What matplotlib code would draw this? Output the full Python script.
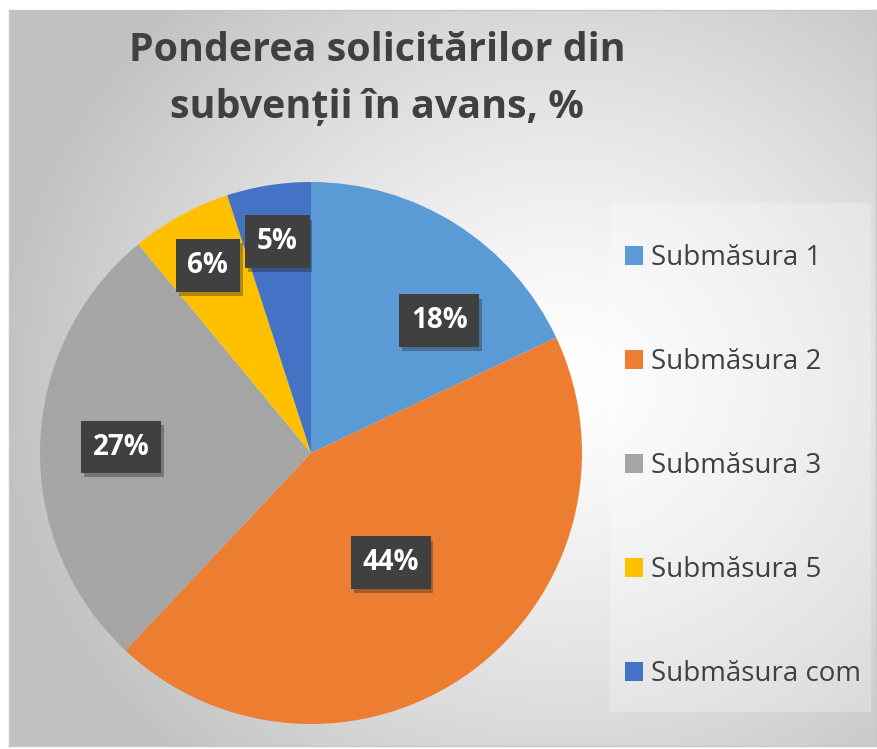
import numpy as np
import matplotlib.pyplot as plt
from matplotlib.patches import Rectangle
import matplotlib.patheffects as pe

plt.rcParams['font.family'] = ['Open Sans', 'DejaVu Sans']

# date
categorii = ['Submăsura 1', 'Submăsura 2', 'Submăsura 3', 'Submăsura 5', 'Submăsura com']
ponderi = [18, 44, 27, 6, 5]
culori = ['#5B9BD5', '#ED7D31', '#A5A5A5', '#FFC000', '#4472C4']
titlu = ['Ponderea solicitărilor din', 'subvenții în avans, %']

# asezarea etichetelor (fractie din raza, deplasare unghi in grade)
dist_etichete = [0.68, 0.50, 0.70, 0.79, 0.79]
deplasare_unghi = [-11.7, 0, 0, 0, 0]

W, H = 878, 749
fig = plt.figure(figsize=(W / 100, H / 100), dpi=100)
fig.patch.set_facecolor('white')


def fx(px):
    return px / W


def fy(py):
    return 1 - py / H


# fundal cu gradient radial
x0, y0, x1, y1 = 9, 10, 876, 746
bg = fig.add_axes([fx(x0), fy(y1), fx(x1 - x0), (y1 - y0) / H])
gx, gy = np.meshgrid(np.arange(x0, x1), np.arange(y0, y1))
d = np.sqrt(((gx - 560) / 560) ** 2 + ((gy - 380) / 520) ** 2)
d = np.clip(d, 0, 1)
val = 1.0 - 0.24 * d ** 1.3
bg.imshow(np.dstack([val, val, val]), aspect='auto', interpolation='bilinear')
bg.set_xticks([])
bg.set_yticks([])
for s in bg.spines.values():
    s.set_color('#c8c8c8')
    s.set_linewidth(1)

# titlu
fig.text(fx(377), fy(61), titlu[0], ha='center', va='baseline', fontsize=28.4,
         fontweight='bold', color='#404040')
fig.text(fx(377), fy(118), titlu[1], ha='center', va='baseline', fontsize=28.4,
         fontweight='bold', color='#404040')

# diagrama
cx, cy, r = 311, 453, 271
ax = fig.add_axes([fx(cx - r), fy(cy + r), 2 * r / W, 2 * r / H])
wedges, _ = ax.pie(ponderi, colors=culori, startangle=90, counterclock=False,
                   radius=1, wedgeprops=dict(linewidth=0))
ax.set_xlim(-1, 1)
ax.set_ylim(-1, 1)

for w, p, f, du in zip(wedges, ponderi, dist_etichete, deplasare_unghi):
    ang = np.deg2rad((w.theta1 + w.theta2) / 2 + du)
    t = ax.text(f * np.cos(ang), f * np.sin(ang), f'{p}%', ha='center', va='center',
                fontsize=20, fontweight='bold', color='white',
                bbox=dict(boxstyle='square,pad=0.42', facecolor='#404040',
                          edgecolor='none'))
    t.get_bbox_patch().set_path_effects([
        pe.SimplePatchShadow(offset=(2, -3), alpha=0.35, shadow_rgbFace='#202020'),
        pe.Normal()])

# legenda
fig.patches.append(Rectangle((fx(610), fy(712)), fx(871 - 610), (712 - 203) / H,
                             transform=fig.transFigure, facecolor='white',
                             alpha=0.25, edgecolor='none'))
leg = fig.legend(wedges, categorii, loc='upper left',
                 bbox_to_anchor=(fx(625), fy(244)), frameon=False,
                 fontsize=20, labelcolor='#404040', labelspacing=2.74,
                 handlelength=0.65, handleheight=0.65, handletextpad=0.3,
                 borderpad=0, borderaxespad=0)

fig.savefig('out.png', dpi=100)
